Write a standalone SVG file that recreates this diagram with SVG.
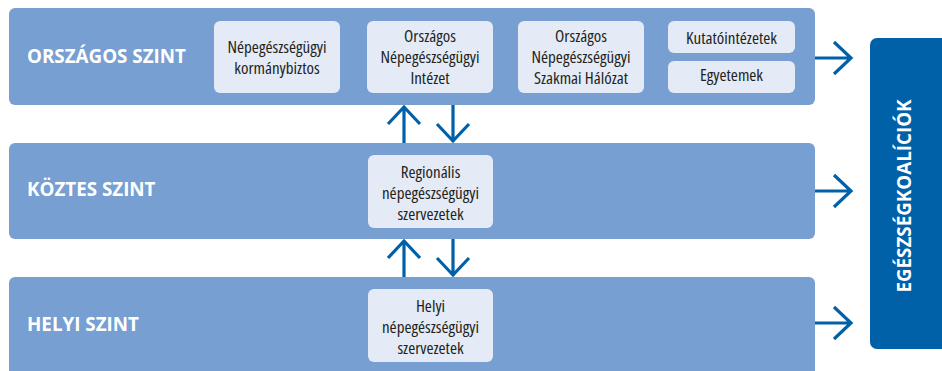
<svg xmlns="http://www.w3.org/2000/svg" width="942" height="371" viewBox="0 0 942 371">
  <style>
    .band { fill: #779fd1; }
    .box { fill: #e4eaf6; }
    .lvl { font-family: "Open Sans", "Liberation Sans", sans-serif; font-weight: bold; font-size: 18.8px; fill: #ffffff; }
    .t { font-family: "Open Sans", "Liberation Sans", sans-serif; font-stretch: 75%; font-weight: 500; font-size: 17px; fill: #231f20; text-anchor: middle; }
    .arr { fill: none; stroke: #0060a8; stroke-width: 3.2; }
  </style>

  <rect width="942" height="371" fill="#ffffff"/>

  <!-- national level -->
  <g id="orszagos">
    <rect class="band" x="9" y="8" width="806" height="97" rx="6"/>
    <text class="lvl" x="27" y="63">ORSZÁGOS SZINT</text>
  </g>
  <g id="kormanybiztos">
    <rect class="box" x="214" y="21" width="126" height="72" rx="6"/>
    <text class="t" x="277" y="53">Népegészségügyi</text>
    <text class="t" x="277" y="74">kormánybiztos</text>
  </g>
  <g id="intezet">
    <rect class="box" x="367" y="21" width="126" height="72" rx="6"/>
    <text class="t" x="430" y="42">Országos</text>
    <text class="t" x="430" y="63">Népegészségügyi</text>
    <text class="t" x="430" y="84">Intézet</text>
  </g>
  <g id="halozat">
    <rect class="box" x="518" y="21" width="126" height="72" rx="6"/>
    <text class="t" x="581" y="42">Országos</text>
    <text class="t" x="581" y="63">Népegészségügyi</text>
    <text class="t" x="581" y="84">Szakmai Hálózat</text>
  </g>
  <g id="kutatointezetek">
    <rect class="box" x="668" y="21" width="127" height="32" rx="6"/>
    <text class="t" x="731.5" y="44">Kutatóintézetek</text>
  </g>
  <g id="egyetemek">
    <rect class="box" x="668" y="61" width="127" height="32" rx="6"/>
    <text class="t" x="731.5" y="81">Egyetemek</text>
  </g>

  <!-- intermediate level -->
  <g id="koztes">
    <rect class="band" x="9" y="143" width="806" height="96" rx="6"/>
    <text class="lvl" x="27" y="196">KÖZTES SZINT</text>
  </g>
  <g id="regionalis">
    <rect class="box" x="368" y="155" width="125" height="73" rx="6"/>
    <text class="t" x="430.5" y="178">Regionális</text>
    <text class="t" x="430.5" y="199">népegészségügyi</text>
    <text class="t" x="430.5" y="220">szervezetek</text>
  </g>

  <!-- local level -->
  <g id="helyi">
    <rect class="band" x="9" y="277" width="806" height="100" rx="6"/>
    <text class="lvl" x="27" y="331">HELYI SZINT</text>
  </g>
  <g id="helyi-szervezetek">
    <rect class="box" x="368" y="289" width="125" height="73" rx="6"/>
    <text class="t" x="430.5" y="312">Helyi</text>
    <text class="t" x="430.5" y="333">népegészségügyi</text>
    <text class="t" x="430.5" y="354">szervezetek</text>
  </g>

  <!-- coalitions -->
  <g id="egeszsegkoaliciok">
    <rect x="870" y="38" width="80" height="311" rx="7" fill="#0060a8"/>
    <text class="lvl" transform="translate(911,196) rotate(-90)" text-anchor="middle">EGÉSZSÉGKOALÍCIÓK</text>
  </g>

  <!-- connectors -->
  <g id="connectors" class="arr">
    <!-- between national and intermediate -->
    <path d="M404 143 V106 M388 124 L404 107 L420 124"/>
    <path d="M453 105 V142 M437 124 L453 141 L469 124"/>
    <!-- between intermediate and local -->
    <path d="M404 277 V240 M388 258 L404 241 L420 258"/>
    <path d="M453 239 V276 M437 258 L453 275 L469 258"/>
    <!-- towards coalitions -->
    <path d="M815 58 H852 M834 42 L851 58 L834 74"/>
    <path d="M815 191 H852 M834 175 L851 191 L834 207"/>
    <path d="M815 323 H852 M834 307 L851 323 L834 339"/>
  </g>
</svg>
